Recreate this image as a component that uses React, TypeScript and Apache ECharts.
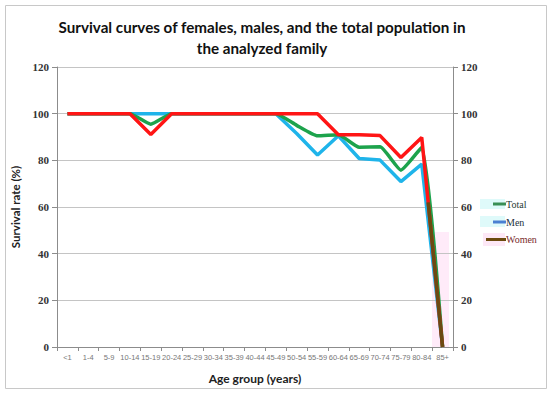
import React, { useEffect, useRef } from "react";
import * as echarts from "echarts";

const categories = ["<1", "1-4", "5-9", "10-14", "15-19", "20-24", "25-29", "30-34", "35-39", "40-44", "45-49", "50-54", "55-59", "60-64", "65-69", "70-74", "75-79", "80-84", "85+"];
const totalValues = [100, 100, 100, 100, 95.5, 100, 100, 100, 100, 100, 100, 95, 90.5, 91, 85.6, 85.8, 75.8, 85.6, 0];
const menValues = [100, 100, 100, 100, 100, 100, 100, 100, 100, 100, 100, 91.5, 82.3, 90.5, 80.8, 80.1, 70.9, 78.4, 0];
const womenValues = [100, 100, 100, 100, 91.1, 100, 100, 100, 100, 100, 100, 100, 100, 91, 91, 90.6, 81.2, 89.8, 0];
const yTicks = [0, 20, 40, 60, 80, 100, 120];

export default function App() {
  const ref = useRef<HTMLDivElement>(null);
  useEffect(() => {
    document.body.style.margin = "0";
    const chart = echarts.init(ref.current!, null, { renderer: "svg" });
    const last = categories.length - 1;
    const yAxisCommon = {
      type: "value",
      min: yTicks[0],
      max: yTicks[yTicks.length - 1],
      interval: 20,
      axisLine: { show: true, lineStyle: { color: "#8c8c8c", width: 1 } },
      axisTick: { show: true, length: 5, lineStyle: { color: "#8c8c8c" } },
      axisLabel: { color: "#333", fontFamily: "Liberation Serif", fontWeight: "bold", fontSize: 11, margin: 8 },
    };
    chart.setOption({
      animation: false,
      backgroundColor: "#fff",
      title: {
        text: "Survival curves of females, males, and the total population in\nthe analyzed family",
        left: 257,
        textAlign: "center",
        top: 11,
        textStyle: { fontFamily: "Lato", fontWeight: "bold", fontSize: 15.2, color: "#111", lineHeight: 21 },
      },
      grid: { left: 57, right: 97, top: 67, bottom: 47, containLabel: false },
      xAxis: {
        type: "category",
        data: categories,
        boundaryGap: true,
        name: "Age group (years)",
        nameLocation: "middle",
        nameGap: 25,
        nameTextStyle: { fontFamily: "Lato", fontWeight: "bold", fontSize: 12, color: "#222" },
        axisLine: { lineStyle: { color: "#8c8c8c" } },
        axisTick: { show: true, length: 4, alignWithLabel: false, interval: 0, lineStyle: { color: "#8c8c8c" } },
        axisLabel: { interval: 0, color: "#777", fontSize: 7.5, fontFamily: "Liberation Sans", margin: 6 },
      },
      yAxis: [
        {
          ...yAxisCommon,
          position: "left",
          name: "Survival rate (%)",
          nameLocation: "middle",
          nameGap: 33,
          nameRotate: 90,
          nameTextStyle: { fontFamily: "Lato", fontWeight: "bold", fontSize: 11.5, color: "#222" },
          splitLine: { show: true, lineStyle: { color: "#c4c4c4", width: 1 } },
        },
        {
          ...yAxisCommon,
          position: "right",
          splitLine: { show: false },
        },
      ],
      series: [
        {
          name: "Men",
          type: "line",
          data: menValues,
          symbol: "none",
          lineStyle: { color: "#1fb4ea", width: 3.5 },
          itemStyle: { color: "#1fb4ea" },
          z: 2,
        },
        {
          name: "Total",
          type: "line",
          data: totalValues,
          symbol: "none",
          smooth: 0.15,
          lineStyle: { color: "#1da34c", width: 3.5 },
          itemStyle: { color: "#1da34c" },
          z: 3,
        },
        {
          name: "Women",
          type: "line",
          data: womenValues,
          symbol: "none",
          lineStyle: { color: "#ff1515", width: 3.5 },
          itemStyle: { color: "#ff1515" },
          z: 4,
        },
        {
          name: "drop",
          type: "custom",
          data: [[last, womenValues[last]]],
          z: 5,
          renderItem: (params: any, api: any) => {
            const p1 = api.coord([last - 1, womenValues[last - 1]]);
            const p2 = api.coord([last, womenValues[last]]);
            const startVal = 62;
            const t = (womenValues[last - 1] - startVal) / (womenValues[last - 1] - womenValues[last]);
            return {
              type: "line",
              shape: {
                x1: p1[0] + t * (p2[0] - p1[0]),
                y1: p1[1] + t * (p2[1] - p1[1]),
                x2: p2[0],
                y2: p2[1],
              },
              style: { stroke: "#6b4a12", lineWidth: 3.5 },
            };
          },
        },
      ],
      graphic: [
        { type: "rect", z: -1, shape: { x: 5.5, y: 5.5, width: 541, height: 383 }, style: { fill: "none", stroke: "#c8c8c8", lineWidth: 1 } },
        { type: "rect", z: -1, shape: { x: 432, y: 232, width: 17, height: 115 }, style: { fill: "rgba(255,190,235,0.3)" } },
        // legend
        { type: "rect", shape: { x: 480, y: 199, width: 25, height: 10 }, style: { fill: "#dffafa" } },
        { type: "rect", shape: { x: 493, y: 202.5, width: 13, height: 3 }, style: { fill: "#3a8f55" } },
        { type: "text", x: 506, y: 204, style: { text: "Total", fill: "#1f3a35", fontFamily: "Liberation Serif", fontSize: 10, verticalAlign: "middle" } },
        { type: "rect", shape: { x: 480, y: 216, width: 25, height: 11 }, style: { fill: "#dffafa" } },
        { type: "rect", shape: { x: 493, y: 220.5, width: 13, height: 3 }, style: { fill: "#4a80d2" } },
        { type: "text", x: 506, y: 222, style: { text: "Men", fill: "#223040", fontFamily: "Liberation Serif", fontSize: 10, verticalAlign: "middle" } },
        { type: "rect", shape: { x: 483, y: 233, width: 22, height: 13 }, style: { fill: "#fde8f6" } },
        { type: "rect", shape: { x: 486, y: 238, width: 20, height: 3 }, style: { fill: "#6b4a0e" } },
        { type: "text", x: 506, y: 239.5, style: { text: "Women", fill: "#7a2a2a", fontFamily: "Liberation Serif", fontSize: 10, verticalAlign: "middle" } },
      ],
    });
    return () => chart.dispose();
  }, []);
  return <div ref={ref} style={{ width: 550, height: 394 }} />;
}
